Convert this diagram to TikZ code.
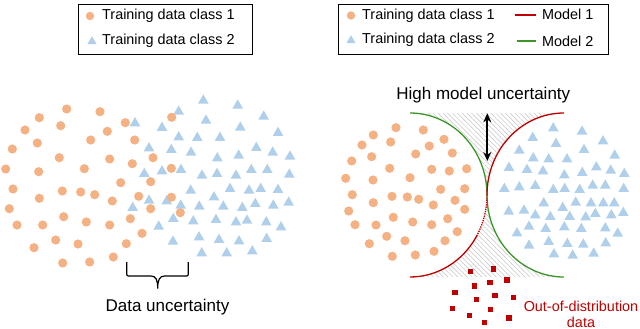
\documentclass[tikz,border=0pt]{standalone}
\usepackage{fontspec}
\setmainfont{Liberation Sans}
\usetikzlibrary{arrows.meta,patterns.meta}
\definecolor{dotorange}{RGB}{244,177,131}
\definecolor{triblue}{RGB}{176,207,235}
\definecolor{modelred}{RGB}{192,0,0}
\definecolor{modelgreen}{RGB}{60,150,40}
\definecolor{hatchgray}{RGB}{195,195,195}

\begin{document}
\begin{tikzpicture}[x=1pt,y=-1pt,
    legendtext/.style={anchor=west,inner sep=0pt,font=\fontsize{14.4}{16}\selectfont},
    bigtext/.style={inner sep=0pt,font=\fontsize{17}{20}\selectfont},
    legendbox/.style={draw,line width=0.9pt},
    modelline/.style={line width=1.3pt},
    hatchfill/.style={pattern={Lines[angle=-45,distance=3.4pt,line width=0.5pt]},pattern color=hatchgray},
    ellarc/.style={x radius=77,y radius=82}]
    \useasboundingbox (0,0) rectangle (640,329);

    % Legend of the left panel
    \draw[legendbox] (78,4) rectangle (252,54);
    \fill[dotorange] (90,16) circle (4.2);
    \fill[triblue] (92,41) ++(-4.6,3.2) -- ++(9.2,0) -- ++(-4.6,-8) -- cycle;
    \node[legendtext] (lclassa) at (102,16) {Training data class 1};
    \node[legendtext] (lclassb) at (102,41) {Training data class 2};

    % Legend of the right panel
    \draw[legendbox] (338,4) rectangle (608,54);
    \fill[dotorange] (351,15.5) circle (4.2);
    \fill[triblue] (351,40) ++(-4.6,3.2) -- ++(9.2,0) -- ++(-4.6,-8) -- cycle;
    \node[legendtext] (rclassa) at (362,15.5) {Training data class 1};
    \node[legendtext] (rclassb) at (362,40) {Training data class 2};
    \draw[modelred,modelline] (515,15) -- (536,15);
    \draw[modelgreen,modelline] (516.5,41) -- (536,41);
    \node[legendtext] (lmodela) at (542,14.5) {Model 1};
    \node[legendtext] (lmodelb) at (542,41) {Model 2};

    % Left panel: class 2
    \foreach \p in {(203.3,100),(237.7,105),(178.7,111),(263.7,116),(135,122.7),(206,120),
        (162,127.3),(240.3,127),(278,132.3),(178.7,136.7),(197.3,137.3),(220,137.3),
        (149,147.7),(171.3,149.3),(191,152),(256.3,147.3),(238.7,155),(272.7,152),
        (290,156),(217.3,157.7),(144.3,173.3),(162,170.7),(181,169.3),(202,175),
        (217,173.3),(236,175),(251.3,169.3),(267.3,169.3),(289.3,174),(190.7,190),
        (214,196.7),(230,188.3),(249,190),(260.7,188.3),(278,189.3),(132.7,207.3),
        (149,200),(166.7,200.7),(180.7,205),(199.3,206),(223.3,206),(242.3,207.3),
        (255.3,203.3),(273.3,205),(288.7,202),(173.3,218.3),(193.3,220.7),(216,219.3),
        (236,221.7),(247,220),(266.3,221.7),(281,226.7),(158.7,226),(199,236.7),
        (219,239.3),(239,240.7),(266.7,238.3),(173,241),(201.7,252.7),(226.7,252.7),
        (252.3,250.7)}
        \fill[triblue] \p ++(-5.3,3.6) -- ++(10.6,0) -- ++(-5.3,-9.2) -- cycle;

    % Left panel: class 1
    \foreach \p in {(66.7,109),(100,111.7),(39.3,117.7),(60.7,125.7),(125.3,122.7),
        (171.7,117.3),(25,130),(107.3,131.3),(37.3,143),(90.7,140),(134.7,140),
        (12.3,149),(59.3,157.7),(109.7,159),(153,157.7),(132.3,163.7),(5.7,169),
        (38.7,171.7),(84.3,168.7),(171.3,168.3),(150.7,181.7),(120.7,182.7),(13,189),
        (62.3,191),(80.7,192),(94.7,194.7),(39.3,198.3),(112.3,201),(138.7,196.3),
        (171.3,197.3),(9.3,208.7),(150.7,208.7),(180.3,212.7),(63.7,216.7),
        (130.3,218.7),(17,225),(42.7,225),(86.3,222),(109.7,225),(142,233.3),
        (55.7,240),(78,244),(34,247.7),(126.3,243.7),(113.3,257),(62.7,263),(89.7,262)}
        \fill[dotorange] \p circle (4.6);

    % The overlap of the two classes
    \draw[line width=1.2pt] (126.7,262) -- (126.7,272) .. controls (126.7,276) .. (130.5,276)
        -- (151,276) .. controls (156,276) and (157.7,280) .. (157.7,288.5)
        .. controls (157.7,280) and (159.5,276) .. (164.5,276)
        -- (184.5,276) .. controls (188.3,276) .. (188.3,272) -- (188.3,262);
    \node[bigtext] (datau) at (167.5,307.5) {Data uncertainty};

    % Right panel: region that no model covers
    \coordinate (meet) at (487,195);
    \fill[hatchfill] (410,113) arc[start angle=-90,end angle=0,ellarc]
        arc[start angle=180,end angle=270,ellarc] -- cycle;
    \fill[hatchfill] (410,277) arc[start angle=90,end angle=0,ellarc]
        arc[start angle=180,end angle=90,ellarc] -- cycle;

    % Right panel: class 1
    \foreach \p in {(396,127.7),(423.3,130),(373.3,135),(390.7,142),(444,139.3),
        (362,145),(429.3,146),(415.7,154),(452.3,153),(371.7,156.7),(351.7,161),
        (389.7,168.3),(431.7,169.3),(449.3,171),(466.7,168.7),(345.7,178.3),(373,180),
        (410,177.7),(440.7,189.3),(464.7,188.7),(352.3,194.7),(392,196.3),(407.3,197),
        (418.7,199.3),(373.3,202.7),(433.3,205),(455,200.3),(348.7,211),(464.7,209.3),
        (393.3,217.3),(412.7,222),(447.7,218.7),(355,224.7),(376,225),(431.7,224.7),
        (457.3,231.7),(386.7,236.3),(405,240.7),(445,240.7),(369.3,243.7),(434,251.3),
        (415.3,255),(392.3,256.3)}
        \fill[dotorange] \p circle (4.6);

    % Right panel: class 2
    \foreach \p in {(553.3,127.7),(582,131),(532.7,137.3),(556,143.3),(603,140.7),
        (519.3,150),(584,149.3),(614.7,155),(533.3,157.7),(548.7,158.7),(567,158.7),
        (509,167.3),(527,169.3),(543,170.7),(564.3,174.7),(582.3,172.3),(596.3,166.7),
        (610.7,170),(624.3,173.3),(504.3,188.3),(519.3,186.7),(535.3,185.3),
        (553.3,189.3),(564.7,188.3),(579.7,189.3),(592.7,185),(605.3,185),(623.7,188.3),
        (543.7,202.7),(562.7,207.3),(575.7,202),(591,202.7),(603.3,202.7),(614.3,202.7),
        (508.7,211),(524,210),(535.3,214.7),(550.3,216.3),(569.7,216.3),(585.7,216.7),
        (595.3,213.3),(611.3,214.7),(623.3,212.3),(529,226),(545.7,228.3),(564.3,226.7),
        (581.3,228.3),(605.3,227.7),(517,232.7),(617.7,233),(548.7,241.3),(567.3,243.3),
        (583.3,244),(605.7,242.7),(529,245),(554,253.7),(572.7,255),(593.7,253)}
        \fill[triblue] \p ++(-5.3,3.6) -- ++(10.6,0) -- ++(-5.3,-9.2) -- cycle;

    % The two models
    \draw[modelgreen,modelline] (410,113) arc[start angle=-90,end angle=0,ellarc]
        arc[start angle=180,end angle=90,ellarc];
    \draw[modelred,modelline] (410,277) arc[start angle=90,end angle=30,ellarc] coordinate (redbreak);
    \draw[modelred,modelline,densely dotted] (redbreak) arc[start angle=30,end angle=0,ellarc];
    \draw[modelred,modelline] (meet) arc[start angle=180,end angle=270,ellarc];

    % Gap between the models
    \coordinate (gaptop) at (487.3,113.3);
    \coordinate (gapbot) at (487.3,161);
    \draw[{Stealth[length=9pt,width=8pt]}-{Stealth[length=9pt,width=8pt]},line width=1.8pt]
        (gaptop) -- (gapbot);
    \node[bigtext] (modelu) at (483.3,95) {High model uncertainty};

    % Out-of-distribution data
    \foreach \p in {(470.7,271.7),(493.3,269),(507,280),(490,282.7),(474.3,286),
        (455,292.3),(495,295.3),(513.3,297.3),(476.3,299.3),(490.7,309.3),(452.7,308.7),
        (469.3,315.7),(509,318),(484.3,322.7)}
        \fill[modelred] \p ++(-2.7,-2.7) rectangle ++(5.4,5.4);
    \node[legendtext,anchor=base,text=modelred] (ooda) at (581,311.5) {Out-of-distribution};
    \node[legendtext,anchor=base,text=modelred] (oodb) at (581,327.3) {data};
\end{tikzpicture}
\end{document}
